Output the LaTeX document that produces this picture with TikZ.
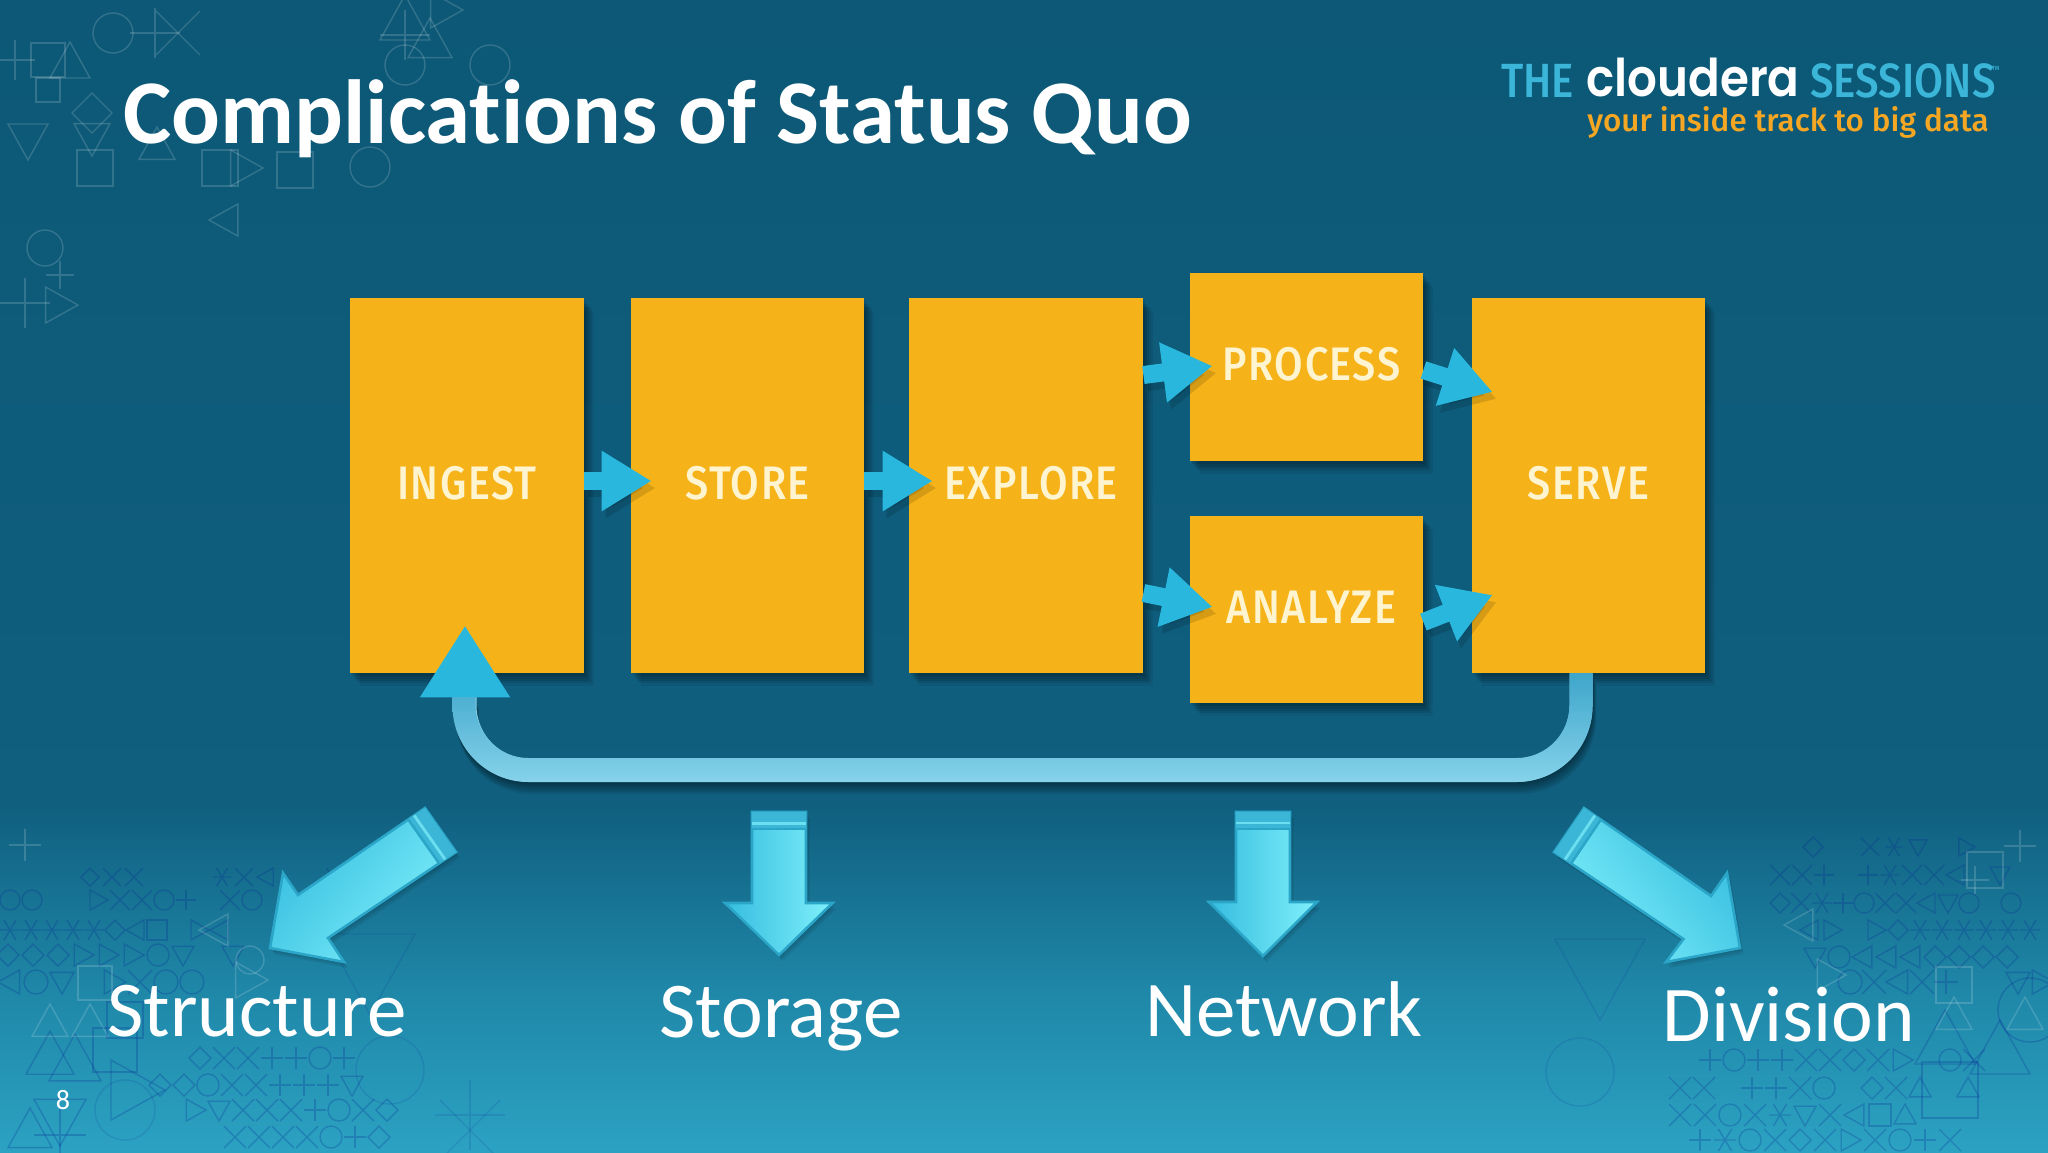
\documentclass[tikz,border=0pt]{standalone}
\usepackage{fontspec}
\usetikzlibrary{arrows.meta,shadows,calc}
\setmainfont[Ligatures=NoCommon]{Carlito}
\newfontfamily\boxfont[FakeStretch=0.88,LetterSpace=3.2]{Fira Sans Medium}
\newfontfamily\logothin[FakeStretch=0.875]{Fira Sans Medium}
\newfontfamily\logobold[FakeStretch=0.90]{Poppins SemiBold}
\newfontfamily\logotag{Fira Sans Medium}
\definecolor{bgtop}{HTML}{0C5876}
\definecolor{bgmid}{HTML}{105F7F}
\definecolor{bglow}{HTML}{1F87A8}
\definecolor{bgbot}{HTML}{2CA2C2}
\definecolor{amber}{HTML}{F6B319}
\definecolor{cream}{HTML}{FFF4D0}
\definecolor{flowblue}{HTML}{2AB7DD}
\definecolor{loopdark}{HTML}{3EA6CB}
\definecolor{looplight}{HTML}{86D2EA}
\definecolor{bigdark}{HTML}{35BDDF}
\definecolor{biglight}{HTML}{80F0FB}
\definecolor{bigedge}{HTML}{2BA6C8}
\definecolor{bigband}{HTML}{3CB6D6}
\definecolor{logoblue}{HTML}{3BB5D8}
\definecolor{logogold}{HTML}{F5A623}
\pgfdeclareverticalshading{slidebg}{100bp}{color(0bp)=(bgbot); color(25bp)=(bgbot); color(32bp)=(bglow); color(40bp)=(bgmid); color(75bp)=(bgtop); color(100bp)=(bgtop)}
% background glyphs
\newcommand\gla[3]{\draw (#1-#3,#2+#3*.8)--(#1,#2-#3)--(#1+#3,#2+#3*.8)--cycle;}
\newcommand\glv[3]{\draw (#1-#3,#2-#3*.8)--(#1,#2+#3)--(#1+#3,#2-#3*.8)--cycle;}
\newcommand\gll[3]{\draw (#1+#3*.8,#2-#3)--(#1-#3,#2)--(#1+#3*.8,#2+#3)--cycle;}
\newcommand\glr[3]{\draw (#1-#3*.8,#2-#3)--(#1+#3,#2)--(#1-#3*.8,#2+#3)--cycle;}
\newcommand\glo[3]{\draw (#1,#2) circle [radius=#3];}
\newcommand\gld[3]{\draw (#1-#3,#2)--(#1,#2-#3)--(#1+#3,#2)--(#1,#2+#3)--cycle;}
\newcommand\glq[3]{\draw (#1-#3,#2-#3) rectangle (#1+#3,#2+#3);}
\newcommand\glx[3]{\draw (#1-#3,#2-#3)--(#1+#3,#2+#3) (#1-#3,#2+#3)--(#1+#3,#2-#3);}
\newcommand\glp[3]{\draw (#1-#3,#2)--(#1+#3,#2) (#1,#2-#3)--(#1,#2+#3);}
\newcommand\gls[3]{\draw (#1-#3,#2)--(#1+#3,#2) (#1-#3*.6,#2-#3)--(#1+#3*.6,#2+#3) (#1-#3*.6,#2+#3)--(#1+#3*.6,#2-#3);}
\newcommand\gln[3]{}
\newcommand\grow[5]{\foreach \g [count=\k from 0] in {#5}{\pgfmathsetmacro\gx{#2+\k*#3}\csname gl\g\endcsname{\gx}{#1}{#4}}}
% big block arrows: T1,S1,H1,Tip,H2,S2,T2, shading angle
\newcommand\bigarrow[8]{%
  \foreach \o in {2,4,6}{\fill[black,opacity=.07,shift={(\o*.6,\o)}] (#1)--(#2)--(#3)--(#4)--(#5)--(#6)--(#7)--cycle;}
  \shade[top color=bigdark,bottom color=biglight,shading angle=#8] (#1)--(#2)--(#3)--(#4)--(#5)--(#6)--(#7)--cycle;
  \draw[bigedge,line width=1.3pt,line join=miter] (#1)--(#2)--(#3)--(#4)--(#5)--(#6)--(#7)--cycle;
  \fill[bigband] (#1)--($(#1)!18/\glen!(#2)$)--($(#7)!18/\glen!(#6)$)--(#7)--cycle;
  \draw[biglight,opacity=.7,line width=1.4pt] ($(#1)!11/\glen!(#2)$)--($(#7)!11/\glen!(#6)$);
  \draw[bigedge,line width=1.2pt] ($(#1)!17/\glen!(#2)$)--($(#7)!17/\glen!(#6)$);
}
\tikzset{
  softbox/.style={rectangle,fill=amber,draw=none,inner sep=0pt,text=cream,
    font=\boxfont\fontsize{23.5}{24}\selectfont,text height=13.5pt,text depth=0pt,align=center,
    general shadow={fill=black,fill opacity=.10,shadow xshift=1pt,shadow yshift=-1.5pt},
    general shadow={fill=black,fill opacity=.10,shadow xshift=2pt,shadow yshift=-3pt},
    general shadow={fill=black,fill opacity=.10,shadow xshift=3pt,shadow yshift=-4pt},
    general shadow={fill=black,fill opacity=.08,shadow xshift=4pt,shadow yshift=-5pt},
    general shadow={fill=black,fill opacity=.06,shadow xshift=5pt,shadow yshift=-6.5pt}},
  flowline/.style={draw=flowblue,line width=9pt,-{Triangle[length=25pt,width=28.5pt,color=flowblue,fill=flowblue]}},
  flowshadow/.style={draw=black,opacity=.13,line width=9pt,-{Triangle[length=25pt,width=28.5pt,color=black,fill=black]}},
  loopline/.style={draw=looplight,line width=11.5pt,rounded corners=32.5pt,-{Triangle[length=36pt,width=42.5pt,color=flowblue,fill=flowblue]}},
  darkglyph/.style={draw=black!35!blue!60!bgtop,opacity=.24,line width=.7pt},
  faintglyph/.style={draw=black!35!blue!60!bgtop,opacity=.13,line width=.7pt},
  lightglyph/.style={draw=white,opacity=.16,line width=.7pt},
  caption/.style={text=white,inner sep=0pt,anchor=base west,font=\fontsize{39.5}{41}\selectfont},
}
\newcommand\flow[4]{%
  \draw[flowshadow] ([shift={(#2)},shift={(4,7)}]#1) -- ([shift={(#4)},shift={(4,7)}]#3);
  \draw[flowline] ([shift={(#2)}]#1) -- ([shift={(#4)}]#3);
}
\newcommand\loopshape{(1592.5,673) [rounded corners=38pt] -- (1592.5,782) -- (452.5,782) [sharp corners] -- (452.5,697) -- (475.5,697) [rounded corners=26.5pt] -- (475.5,758) -- (1569.5,758) [sharp corners] -- (1569.5,673) -- cycle}
\begin{document}
\begin{tikzpicture}[x=0.5pt,y=-0.5pt]
\useasboundingbox (0,0) rectangle (2048,1152);
\shade[shading=slidebg] (0,0) rectangle (2048,1152);
% ---- faint pattern
\begin{scope}[darkglyph]
\grow{877}{90}{22}{9}{d,x,x,n,n,n,s,x,l,n,n,s,x}
\grow{900}{10}{22}{10}{o,o,n,n,r,x,x,o,p,n,x,o}
\grow{930}{10}{21}{10}{s,s,s,s,s,d,l,q,n,r,l}
\grow{955}{8}{25}{11}{d,d,d,r,r,r,o,v,n,v}
\grow{982}{10}{26}{12}{l,o,v,n,r,x,o,o}
\grow{1058}{200}{24}{11}{d,x,x,p,p,o,p}
\grow{1085}{160}{24}{11}{d,d,o,x,x,p,p,p,v}
\grow{1110}{195}{24}{11}{r,v,x,x,x,p,o,x,d}
\grow{1137}{235}{24}{11}{x,x,x,x,o,p,d}
\gla{50}{1055}{24}\gla{75}{1060}{26}\glq{115}{1050}{22}\glr{135}{1090}{30}\gla{30}{1130}{22}\glv{60}{1120}{26}\glq{125}{1020}{18}\glp{60}{1135}{26}
\grow{847}{1870}{24}{9}{x,s,v,n,r}\gld{1813}{847}{10}
\grow{875}{1780}{22}{10}{x,x,p,n,p,s,x,x,l,n,v}
\grow{903}{1780}{21}{10}{d,x,s,p,o,x,x,l,v,o,n,o}
\grow{930}{1810}{22}{10}{l,r,n,r,d,s,s,s,s,s,s}
\grow{957}{1815}{24}{11}{v,o,l,l,l,d,d,d,d}
\grow{982}{1850}{24}{12}{o,x,l,x,p,n,n,v,r}
\grow{1060}{1710}{24}{11}{p,o,p,p,x,x,d,x,r,n,o,x}
\grow{1088}{1680}{24}{11}{x,x,n,p,p,x,o,n,d,x,a,n,a}
\grow{1115}{1680}{25}{11}{x,x,o,x,s,v,x,l,q,a}
\grow{1140}{1700}{25}{11}{p,s,o,x,d,x,r,x,o,p,x}
\gla{1945}{1040}{30}\gla{2000}{1050}{30}\glo{2030}{1010}{32}\glq{1950}{1090}{28}
\end{scope}
\begin{scope}[faintglyph]
\glv{370}{970}{45}\glv{1600}{975}{45}\glo{390}{1070}{34}\glo{1580}{1072}{34}\glo{125}{1110}{30}\glx{470}{1130}{30}\glp{470}{1115}{35}
\end{scope}
\begin{scope}[lightglyph]
\glo{113}{33}{20}\glq{48}{60}{17}\gla{70}{62}{20}\glp{155}{33}{25}\glx{178}{33}{22}\glp{15}{60}{20}
\gld{92}{113}{20}\glv{28}{140}{20}\glv{92}{138}{18}\glq{95}{168}{18}\gla{157}{145}{18}\glq{220}{168}{18}\glr{245}{168}{18}\gll{225}{220}{16}\glo{370}{167}{20}\glq{295}{170}{18}\glq{48}{90}{12}
\glo{45}{248}{18}\glp{25}{303}{25}\glr{60}{305}{18}\glp{60}{275}{14}
\gla{405}{20}{25}\gla{430}{40}{22}\glp{405}{35}{25}\glo{405}{65}{20}\glo{490}{65}{20}\glr{445}{10}{18}
\glp{25}{845}{16}\glq{95}{983}{17}\gla{90}{1022}{18}\gla{50}{1022}{18}\glr{250}{980}{18}\gll{215}{930}{16}\glo{250}{960}{14}
\glp{2020}{846}{16}\glq{1954}{985}{18}\gla{1954}{1015}{18}\gla{2025}{1015}{18}\gll{1800}{925}{16}\glr{1830}{975}{16}\glq{1985}{870}{18}\glp{1975}{880}{14}
\end{scope}
% ---- title and logo
\node[anchor=base west,inner sep=0pt,text=white,font=\bfseries\fontsize{45.5}{47}\selectfont] (title) at (123,143) {Complications of Status Quo};
\node[anchor=base west,inner sep=0pt,text=logoblue,font=\logothin\fontsize{24}{26}\selectfont] (logothe) at (1501,97) {THE};
\node[anchor=base west,inner sep=0pt,text=white,font=\logobold\fontsize{26}{28}\selectfont] (logomain) at (1586,96) {cloudera};
\node[anchor=base west,inner sep=0pt,text=logoblue,font=\logothin\fontsize{24}{26}\selectfont] (logosess) at (1810,97) {SESSIONS};
\node[anchor=base west,inner sep=0pt,text=logoblue,font=\logothin\fontsize{3}{4}\selectfont] (logotm) at (1992,70) {TM};
\node[anchor=base west,inner sep=0pt,text=logogold,font=\logotag\fontsize{15.7}{18}\selectfont] (logotag) at (1587,131) {your inside track to big data};
% ---- process boxes
\node[softbox,minimum width=117pt,minimum height=187.5pt] (ingest) at (467,485.5) {INGEST};
\node[softbox,minimum width=116.5pt,minimum height=187.5pt] (store) at (747.5,485.5) {STORE};
\node[softbox,minimum width=117pt,minimum height=187.5pt] (explore) at (1026,485.5) {\hspace*{5pt}EXPLORE};
\node[softbox,minimum width=116.5pt,minimum height=94pt] (process) at (1306.5,367) {\hspace*{5pt}PROCESS};
\node[softbox,minimum width=116.5pt,minimum height=93.5pt] (analyze) at (1306.5,609.5) {\hspace*{5pt}ANALYZE};
\node[softbox,minimum width=116.5pt,minimum height=187.5pt] (serve) at (1588.5,485.5) {SERVE};
% ---- connectors
\flow{ingest.east}{0,-4.5}{store.west}{21,-4.5}
\flow{store.east}{0,-4.5}{explore.west}{24,-4.5}
\flow{explore.east}{0,-110.5}{process.west}{23,-1}
\flow{explore.east}{0,107.5}{analyze.west}{23,-2.5}
\flow{process.east}{0,3}{serve.west}{21,-93.5}
\flow{analyze.east}{0,12.5}{serve.west}{21,109.5}
% feedback loop
\foreach \o in {2,4,6,8,10,12}{\fill[black,opacity=.08,shift={(\o*.3,\o)}] \loopshape;}
\draw[loopline] ([shift={(-7.5,0)}]serve.south) -- ++(0,97) -| ([shift={(-2,-48)}]ingest.south);
\shade[top color=loopdark,bottom color=looplight] \loopshape;
% ---- block arrows
\def\glen{90}
\bigarrow{752,812}{752,903}{725,903}{779,955}{832.5,903}{806,903}{806,812}{90}
\bigarrow{1236,812}{1236,902}{1209,902}{1263,956}{1317,902}{1290,902}{1290,812}{90}
\def\glen{129}
\bigarrow{425,808}{298,895}{283,873}{270,948}{344,962}{328,938}{456,852}{50}
\bigarrow{1584,808}{1711,896}{1727,873}{1740,948}{1666,962}{1683.5,939}{1554,852}{-50}
% ---- captions
\node[caption] (structure) at (107,1036) {Structure};
\node[caption] (storage) at (659,1037) {Storage};
\node[caption] (network) at (1145,1036) {Network};
\node[caption] (division) at (1662,1041) {Division};
\node[text=white,inner sep=0pt,font=\fontsize{14}{16}\selectfont] (pageno) at (63,1100) {8};
\end{tikzpicture}
\end{document}
